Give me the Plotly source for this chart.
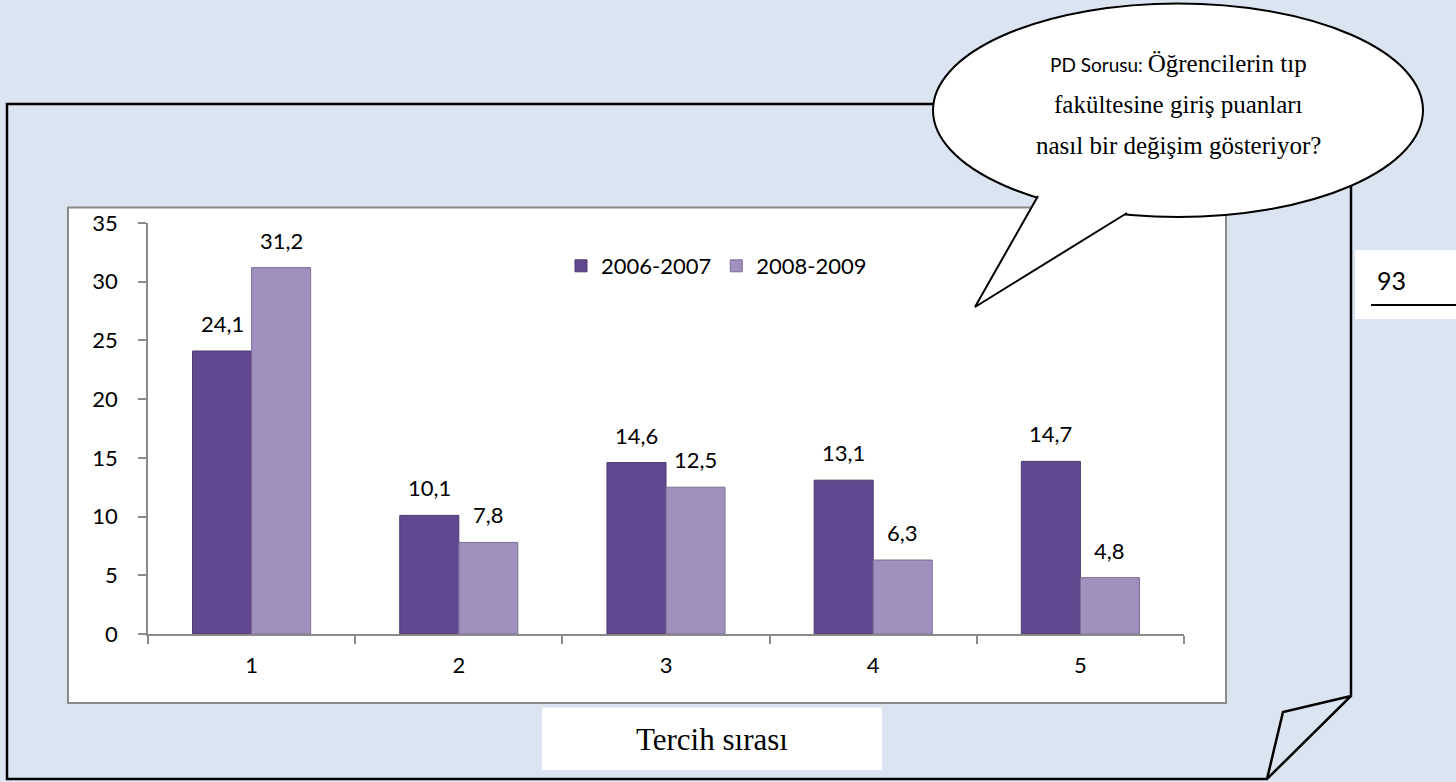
import plotly.graph_objects as go

# ---------------- data ----------------
categories = ["1", "2", "3", "4", "5"]
series_names = ["2006-2007", "2008-2009"]
values_2006_2007 = [24.1, 10.1, 14.6, 13.1, 14.7]
values_2008_2009 = [31.2, 7.8, 12.5, 6.3, 4.8]
y_ticks = [0, 5, 10, 15, 20, 25, 30, 35]
x_title = "Tercih sırası"
bubble_lines = ["Öğrencilerin tıp", "fakültesine giriş puanları", "nasıl bir değişim gösteriyor?"]
bubble_prefix = "PD Sorusu: "
page_number = "93"

# ---------------- layout helpers (pixel -> paper) ----------------
W, H = 1456, 782
ML, MR, MT, MB = 148, 272, 223, 148
PW, PH = W - ML - MR, H - MT - MB


def px(x):
    return (x - ML) / PW


def py(y):
    return (H - MB - y) / PH


def path(points, close=True):
    s = "M " + " L ".join(f"{px(x)},{py(y)}" for x, y in points)
    return s + (" Z" if close else "")


BG = "#DBE5F1"
DARK = "#62498F"
LIGHT = "#A090BE"
SANS = "Lato, 'Open Sans', sans-serif"
SERIF = "'Liberation Serif', 'Times New Roman', serif"
FS = 22

fig = go.Figure()
fig.add_trace(go.Bar(x=categories, y=values_2006_2007, name=series_names[0],
                     marker=dict(color=DARK, line=dict(color="#4A3870", width=1))))
fig.add_trace(go.Bar(x=categories, y=values_2008_2009, name=series_names[1],
                     marker=dict(color=LIGHT, line=dict(color="#7D6E95", width=1))))

annotations = []
for vals, shift in ((values_2006_2007, -29.5), (values_2008_2009, 29.5)):
    for i, v in enumerate(vals):
        annotations.append(dict(x=i, y=v, xref="x", yref="y", text=f"{v:.1f}".replace(".", ","),
                                showarrow=False, xshift=shift, yshift=12, yanchor="bottom",
                                font=dict(family=SANS, size=FS, color="#000000")))

# x axis title box text
annotations.append(dict(x=px(712), y=py(739), xref="paper", yref="paper", text=x_title,
                        showarrow=False, xanchor="center", yanchor="middle",
                        font=dict(family=SERIF, size=31, color="#000000")))
# bubble text
line1 = (f"<span style=\"font-family:{SANS};font-size:19px\">{bubble_prefix}</span>"
         + bubble_lines[0])
for txt, yy in ((line1, 63), (bubble_lines[1], 104), (bubble_lines[2], 146)):
    annotations.append(dict(x=px(1178), y=py(yy), xref="paper", yref="paper", text=txt,
                            showarrow=False, xanchor="center", yanchor="middle",
                            font=dict(family=SERIF, size=25, color="#000000")))
# page number
annotations.append(dict(x=px(1375), y=py(280), xref="paper", yref="paper", text=page_number,
                        showarrow=False, xanchor="left", yanchor="middle",
                        font=dict(family=SANS, size=25, color="#000000")))

shapes = []
# page frame
shapes.append(dict(type="path", xref="paper", yref="paper", layer="below",
                   path=path([(7, 104), (1351, 104), (1351, 696), (1267, 779), (7, 779)]),
                   line=dict(color="#000000", width=2.5), fillcolor="rgba(0,0,0,0)"))
shapes.append(dict(type="path", xref="paper", yref="paper", layer="below",
                   path=path([(1351, 696), (1283, 712), (1267, 779)], close=False),
                   line=dict(color="#000000", width=2.5)))
# chart area box
shapes.append(dict(type="rect", xref="paper", yref="paper", layer="below",
                   x0=px(68), x1=px(1226), y0=py(207.5), y1=py(703),
                   line=dict(color="#8A8A8A", width=2), fillcolor="#FFFFFF"))
# x-title box
shapes.append(dict(type="rect", xref="paper", yref="paper", layer="below",
                   x0=px(542), x1=px(882), y0=py(707.5), y1=py(770),
                   line=dict(width=0), fillcolor="#FFFFFF"))
# page number box + underline
shapes.append(dict(type="rect", xref="paper", yref="paper", layer="below",
                   x0=px(1355), x1=px(1460), y0=py(250), y1=py(319),
                   line=dict(width=0), fillcolor="#FFFFFF"))
shapes.append(dict(type="line", xref="paper", yref="paper", layer="below",
                   x0=px(1371), x1=px(1460), y0=py(305), y1=py(305),
                   line=dict(color="#000000", width=2)))
# speech bubble
shapes.append(dict(type="circle", xref="paper", yref="paper", layer="above",
                   x0=px(933), x1=px(1423), y0=py(3.5), y1=py(217),
                   line=dict(color="#000000", width=2), fillcolor="#FFFFFF"))
shapes.append(dict(type="path", xref="paper", yref="paper", layer="above",
                   path=path([(1038, 196), (975, 307), (1127, 213), (1100, 190), (1050, 186)]),
                   line=dict(width=0), fillcolor="#FFFFFF"))
shapes.append(dict(type="path", xref="paper", yref="paper", layer="above",
                   path=path([(1038, 196), (975, 307), (1127, 213)], close=False),
                   line=dict(color="#000000", width=2)))

fig.update_layout(
    width=W, height=H,
    margin=dict(l=ML, r=MR, t=MT, b=MB, pad=0),
    paper_bgcolor=BG, plot_bgcolor="rgba(0,0,0,0)",
    barmode="group", bargap=0.43, bargroupgap=0,
    separators=",.",
    font=dict(family=SANS, size=FS, color="#000000"),
    showlegend=True,
    legend=dict(orientation="h", x=px(561), y=py(266), xanchor="left", yanchor="middle",
                bgcolor="rgba(0,0,0,0)", font=dict(family=SANS, size=22, color="#000000"),
                itemwidth=30, traceorder="normal"),
    annotations=annotations,
    shapes=shapes,
)
fig.update_xaxes(type="category", range=[-0.5, len(categories) - 0.5], showline=True,
                 linecolor="#8A8A8A", linewidth=1.5,
                 ticks="outside", tickson="boundaries", ticklen=8, tickcolor="#8A8A8A",
                 tickwidth=1.5, showgrid=False, zeroline=False, ticklabelstandoff=11,
                 tickfont=dict(family=SANS, size=FS, color="#000000"), fixedrange=True)
fig.update_yaxes(range=[0, 35], tickvals=y_ticks, showline=True, linecolor="#8A8A8A",
                 linewidth=1.5, ticks="outside", ticklen=8, tickcolor="#8A8A8A", tickwidth=1.5,
                 showgrid=False, zeroline=False, ticklabelstandoff=16,
                 tickfont=dict(family=SANS, size=FS, color="#000000"), fixedrange=True)

fig.write_html("out.html", config={"displayModeBar": False},
               post_script="document.body.style.margin='0';"
                           "document.body.style.overflow='hidden';")
